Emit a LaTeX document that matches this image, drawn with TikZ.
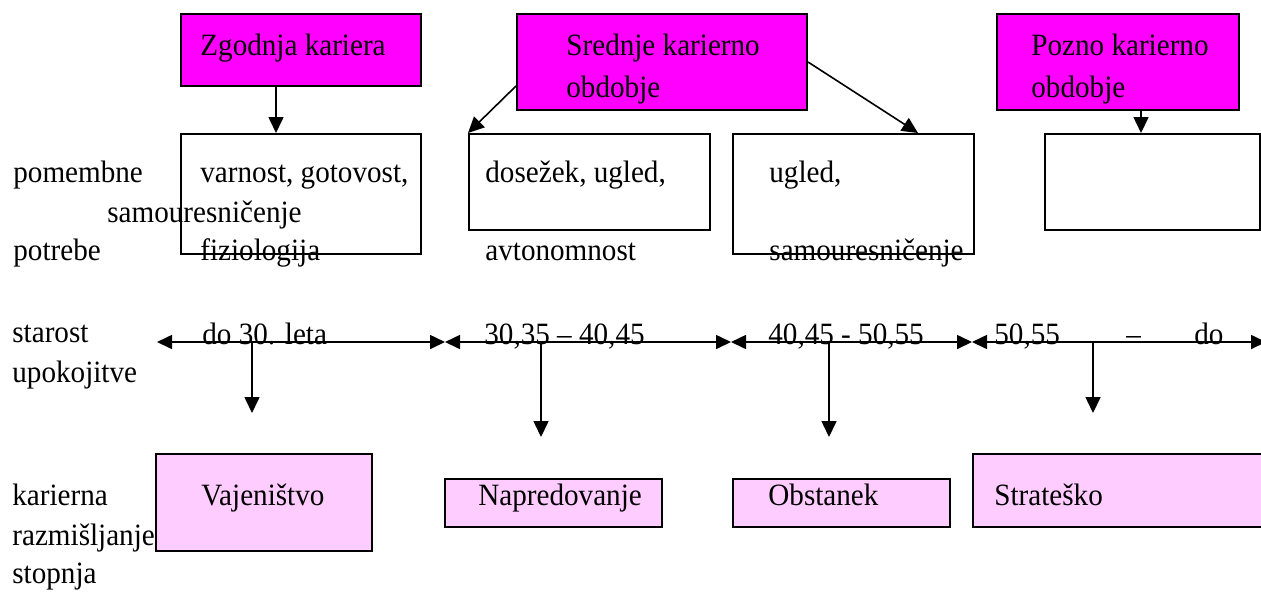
\documentclass[tikz,border=0pt]{standalone}
\usepackage{fontspec}
\setmainfont[FakeStretch=0.94]{Liberation Serif}
\usetikzlibrary{arrows.meta}
\definecolor{topfill}{HTML}{FF00FF}
\definecolor{stagefill}{HTML}{FFCCFF}
\begin{document}
\begin{tikzpicture}[x=0.5pt,y=-0.5pt,
  every node/.style={font=\fontsize{15.5pt}{18pt}\selectfont},
  lbl/.style={anchor=base west, inner sep=0pt},
  bx/.style={draw, line width=1pt, anchor=north west, inner sep=0pt},
  topbox/.style={bx, fill=topfill},
  needbox/.style={bx, fill=white},
  stagebox/.style={bx, fill=stagefill},
  arr/.style={-{Triangle[width=7.5pt,length=8pt]}, line width=0.8pt},
  dbl/.style={{Triangle[width=7pt,length=7.5pt]}-{Triangle[width=7pt,length=7.5pt]}, line width=0.8pt}]
\useasboundingbox (0,0) rectangle (1261,591);

% top boxes
\node[topbox, minimum width=120pt, minimum height=36pt] (Z) at (180,13) {};
\node[topbox, minimum width=145pt, minimum height=48pt] (S) at (516,13) {};
\node[topbox, minimum width=121pt, minimum height=48pt] (P) at (996,13) {};
\node[lbl] (tZ) at (200,55) {Zgodnja kariera};
\node[lbl] (tS1) at (566,55) {Srednje karierno};
\node[lbl] (tS2) at (566,97) {obdobje};
\node[lbl] (tP1) at (1031,55) {Pozno karierno};
\node[lbl] (tP2) at (1031,97) {obdobje};

% needs boxes
\node[needbox, minimum width=120pt, minimum height=60pt] (B1) at (180,133) {};
\node[needbox, minimum width=120.5pt, minimum height=48pt] (B2) at (468,133) {};
\node[needbox, minimum width=120.5pt, minimum height=60pt] (B3) at (732,133) {};
\node[needbox, minimum width=107.5pt, minimum height=48pt] (B4) at (1044,133) {};

% arrows top -> needs
\coordinate (a1) at (276,0);
\coordinate (a4) at (1141,0);
\draw[arr] (Z.south -| a1) -- (B1.north -| a1);
\draw[arr] ([yshift=-12pt]S.west) -- (B2.north west);
\draw[arr] (S.east) -- ([xshift=93pt]B3.north west);
\draw[arr] (P.south -| a4) -- (B4.north -| a4);

% needs texts
\node[lbl] (pom) at (13,182) {pomembne};
\node[lbl] (pot) at (13,260) {potrebe};
\node[lbl] (n1a) at (200,182) {varnost, gotovost,};
\node[lbl] (n1b) at (107,222) {samouresničenje};
\node[lbl] (n1c) at (200,260) {fiziologija};
\node[lbl] (n2a) at (485,182) {dosežek, ugled,};
\node[lbl] (n2b) at (485,260) {avtonomnost};
\node[lbl] (n3a) at (769,182) {ugled,};
\node[lbl] (n3b) at (769,260) {samouresničenje};

% age row
\node[lbl] (sta) at (12,342) {starost};
\node[lbl] (upo) at (12,382) {upokojitve};
\coordinate (t0) at (157,342);
\coordinate (t1) at (445,342);
\coordinate (t2) at (731,342);
\coordinate (t3) at (972,342);
\coordinate (t4) at (1266,342);
\node[lbl] (g1) at (202,344) {do 30. leta};
\node[lbl] (g2) at (484,344) {30,35 – 40,45};
\node[lbl] (g3) at (768,344) {40,45 - 50,55};
\node[lbl] (g4a) at (994,344) {50,55};
\node[lbl] (g4b) at (1126,344) {–};
\node[lbl] (g4c) at (1194,344) {do};
\draw[dbl] (t0) -- (t1);
\draw[dbl] (t1) -- (t2);
\draw[dbl] (t2) -- (t3);
\draw[dbl] (t3) -- (t4);

% drops
\coordinate (d1s) at (252,342); \coordinate (d1e) at (252,413);
\coordinate (d2s) at (541,342); \coordinate (d2e) at (541,437);
\coordinate (d3s) at (829,342); \coordinate (d3e) at (829,437);
\coordinate (d4s) at (1093,342); \coordinate (d4e) at (1093,413);
\draw[arr] (d1s) -- (d1e);
\draw[arr] (d2s) -- (d2e);
\draw[arr] (d3s) -- (d3e);
\draw[arr] (d4s) -- (d4e);

% stage row
\node[lbl] (kar) at (12,505) {karierna};
\node[lbl] (raz) at (12,545) {razmišljanje};
\node[lbl] (sto) at (12,583) {stopnja};
\node[stagebox, minimum width=108pt, minimum height=48.5pt] (V) at (155,453) {};
\node[stagebox, minimum width=108.5pt, minimum height=24pt] (N) at (444,478) {};
\node[stagebox, minimum width=108.5pt, minimum height=24pt] (O) at (732,478) {};
\node[stagebox, minimum width=155pt, minimum height=36.5pt] (St) at (972,453) {};
\node[lbl] (tV) at (201,505) {Vajeništvo};
\node[lbl] (tN) at (478,505) {Napredovanje};
\node[lbl] (tO) at (768,505) {Obstanek};
\node[lbl] (tSt) at (994,505) {Strateško};
\end{tikzpicture}
\end{document}
